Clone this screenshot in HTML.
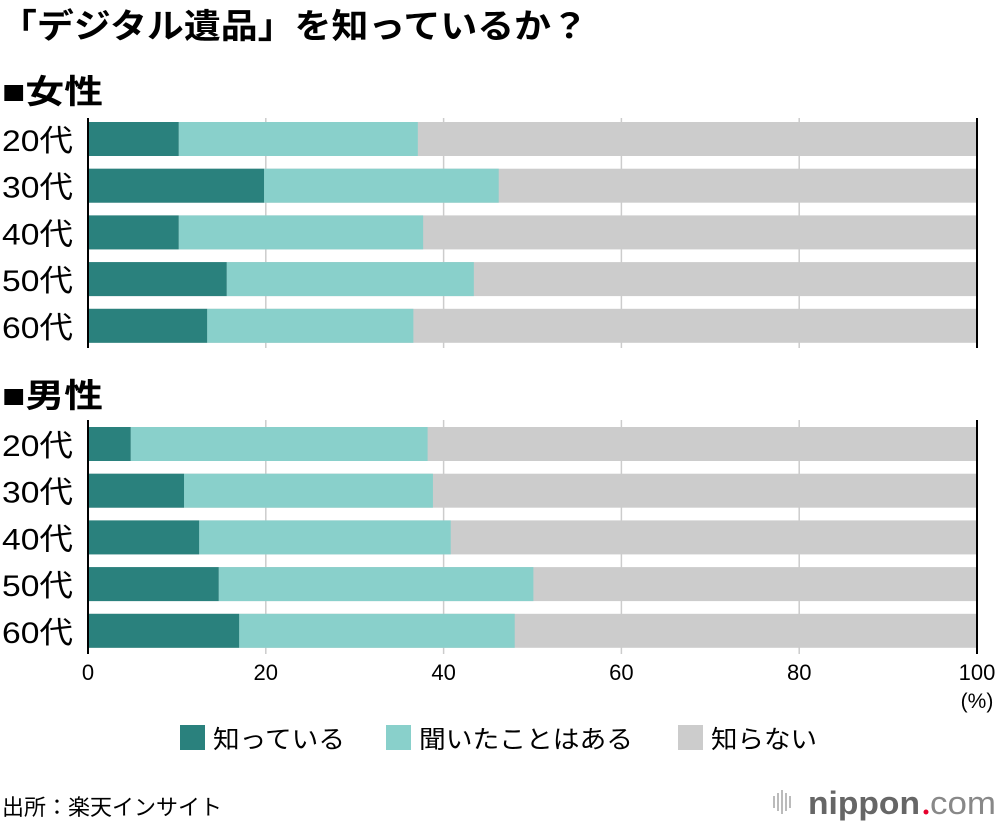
<!DOCTYPE html>
<html><head><meta charset="utf-8"><style>
body{margin:0;background:#fff;font-family:"Liberation Sans","Noto Sans CJK JP",sans-serif;}
svg text{font-family:"Liberation Sans","Noto Sans CJK JP",sans-serif;}
</style></head><body>
<svg id="c" width="1000" height="830" viewBox="0 0 1000 830">
<text x="0" y="38" font-size="34" font-weight="bold" fill="#000" textLength="588" lengthAdjust="spacingAndGlyphs">「デジタル遺品」を知っているか？</text>
<text x="2" y="103" font-size="33" font-weight="bold" textLength="101" lengthAdjust="spacingAndGlyphs">■女性</text>
<text x="2" y="407" font-size="33" font-weight="bold" textLength="101" lengthAdjust="spacingAndGlyphs">■男性</text>
<g id="grid"></g><g id="bars"></g><g id="axes"></g>
<g>
<rect x="180" y="725" width="25" height="25" fill="#2a817d"/>
<text x="213" y="748" font-size="25" textLength="132" lengthAdjust="spacingAndGlyphs">知っている</text>
<rect x="386" y="725" width="25" height="25" fill="#89d0cb"/>
<text x="419" y="748" font-size="25" textLength="214" lengthAdjust="spacingAndGlyphs">聞いたことはある</text>
<rect x="678" y="725" width="25" height="25" fill="#cccccc"/>
<text x="711" y="748" font-size="25" textLength="106" lengthAdjust="spacingAndGlyphs">知らない</text>
</g>
<text x="2" y="815" font-size="22" textLength="220" lengthAdjust="spacingAndGlyphs">出所：楽天インサイト</text>
<g>
<g fill="#bbb"><rect x="773" y="796" width="2" height="12"/><rect x="777" y="793" width="2" height="18"/><rect x="781" y="790" width="2" height="24"/><rect x="785" y="793" width="2" height="18"/><rect x="789" y="796" width="2" height="12"/></g>
<text x="808" y="814" font-size="32" font-weight="bold" fill="#666" textLength="112" lengthAdjust="spacingAndGlyphs">nippon</text>
<circle cx="926" cy="812" r="2.5" fill="#e6002d"/>
<text x="930" y="814" font-size="32" fill="#888" textLength="66" lengthAdjust="spacingAndGlyphs">com</text>
</g>
</svg>
<script>
const groups=["20代","30代","40代","50代","60代"];
const femaleKnow=[10.2,19.8,10.2,15.6,13.4];
const femaleHeard=[26.9,26.4,27.5,27.8,23.2];
const maleKnow=[4.8,10.8,12.5,14.7,17.0];
const maleHeard=[33.4,28.0,28.3,35.4,31.0];
const ticks=[0,20,40,60,80,100];
const NS="http://www.w3.org/2000/svg";
const x0=88,x1=977;
const xs=v=>x0+(x1-x0)*v/100;
function mk(tag,attrs,parent){const e=document.createElementNS(NS,tag);for(const k in attrs)e.setAttribute(k,attrs[k]);parent.appendChild(e);return e;}
const grid=document.getElementById('grid'),bars=document.getElementById('bars'),axes=document.getElementById('axes');
ticks.forEach(t=>{
 const tx=mk('text',{x:xs(t),y:680,'font-size':22,'text-anchor':'middle'},axes);
 tx.textContent=t;
 
 
});
const pct=mk('text',{x:977,y:708,'font-size':21,'text-anchor':'middle'},axes);pct.textContent='(%)';


function panel(know,heard,yStart,sex,ya,yb){
 ticks.slice(1,5).forEach(t=>{
  const l=mk('line',{x1:xs(t),x2:xs(t),y1:ya,y2:yb,stroke:'#ccc','stroke-width':1.5},grid);
  
  
 });
 groups.forEach((g,i)=>{
  const y=yStart+i*46.7;
  const r3=mk('rect',{x:xs(0),y:y,width:xs(100)-xs(0),height:34,fill:'#cccccc'},bars);
  
  
  const r2=mk('rect',{x:xs(know[i]),y:y,width:xs(know[i]+heard[i])-xs(know[i]),height:34,fill:'#89d0cb'},bars);
  
  
  const r1=mk('rect',{x:xs(0),y:y,width:xs(know[i])-xs(0),height:34,fill:'#2a817d'},bars);
  
  
  const t=mk('text',{x:2,y:y+29,'font-size':30,textLength:71,lengthAdjust:'spacingAndGlyphs'},axes);t.textContent=g;
  
  
 });
 [x0,x1].forEach((xx,j)=>{
  const l=mk('line',{x1:xx,x2:xx,y1:ya,y2:yb,stroke:'#000','stroke-width':2},axes);
  
  
 });
}
panel(femaleKnow,femaleHeard,122,'female',118,348);
panel(maleKnow,maleHeard,427,'male',420,654);
</script>
</body></html>
